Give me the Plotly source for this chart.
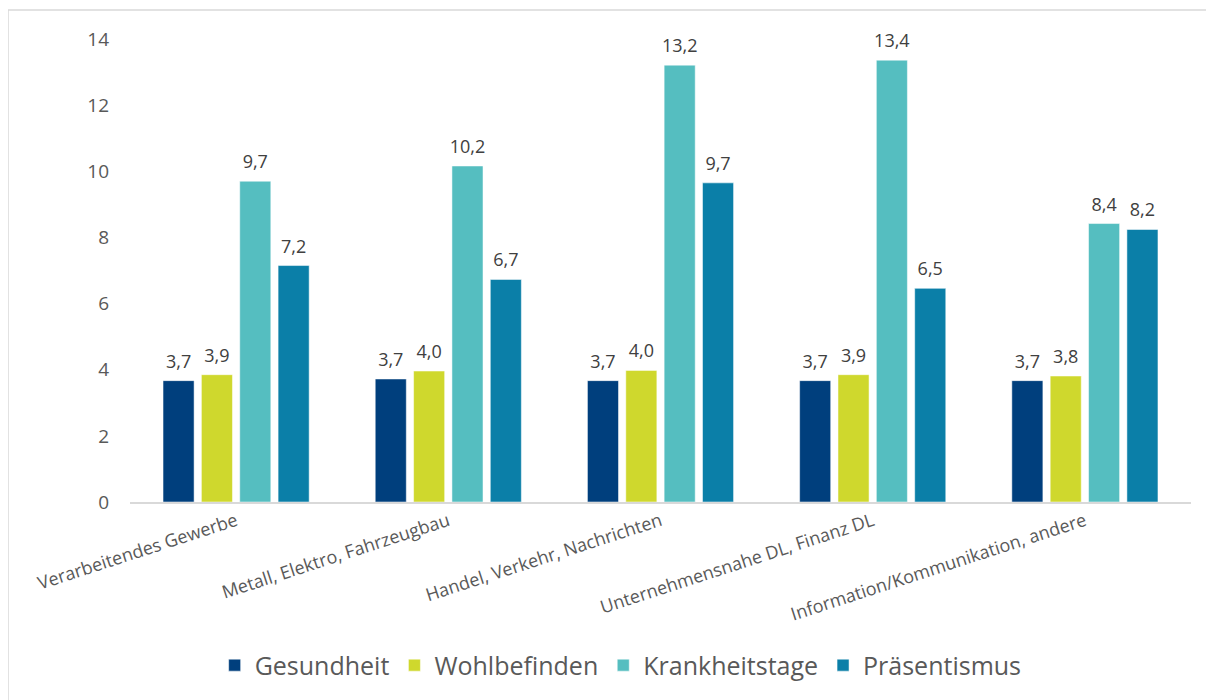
import plotly.graph_objects as go

categories = ["Verarbeitendes Gewerbe", "Metall, Elektro, Fahrzeugbau",
              "Handel, Verkehr, Nachrichten", "Unternehmensnahe DL, Finanz DL",
              "Information/Kommunikation, andere"]
gesundheit = [3.67, 3.72, 3.67, 3.67, 3.67]
wohlbefinden = [3.85, 3.96, 3.98, 3.85, 3.81]
krankheitstage = [9.7, 10.16, 13.21, 13.36, 8.42]
praesentismus = [7.15, 6.73, 9.65, 6.46, 8.24]

series = [
    ("Gesundheit", gesundheit, "#003f7d"),
    ("Wohlbefinden", wohlbefinden, "#cfd82d"),
    ("Krankheitstage", krankheitstage, "#55bec0"),
    ("Präsentismus", praesentismus, "#0b7fa8"),
]

FONT = "'Open Sans', 'Noto Sans', sans-serif"
fig = go.Figure()
for i, (name, vals, col) in enumerate(series):
    fig.add_trace(go.Bar(
        x=categories, y=vals, name=name, offsetgroup=str(i),
        marker=dict(color=col, line=dict(color="rgba(255,255,255,0.5)", width=1)),
    ))
for i, (name, vals, col) in enumerate(series):
    fig.add_trace(go.Scatter(
        x=categories, y=vals, mode="text+markers", offsetgroup=str(i),
        marker=dict(size=12, opacity=0),
        texttemplate="%{y:.1f}", textposition="top center",
        textfont=dict(size=18, color="#404040", family=FONT),
        showlegend=False, hoverinfo="skip", cliponaxis=False,
    ))

# page has an 8px body margin, so figure coords = screen coords - 8
W, H = 1206, 692
L, R, T, B = 122, 23, 31, 198
pw, ph = W - L - R, H - T - B

def px(x):
    return (x - L) / pw

def py(y):
    return (H - B - y) / ph

fig.update_layout(
    width=W, height=H,
    margin=dict(l=L, r=R, t=T, b=B, autoexpand=False),
    paper_bgcolor="white", plot_bgcolor="white",
    separators=",.",
    barmode="group", bargap=0.277, bargroupgap=0.19,
    scattermode="group", scattergap=0.277,
    font=dict(family=FONT, color="#595959"),
    showlegend=True,
    legend=dict(orientation="h", xref="container", yref="container",
                x=0.508, xanchor="center", y=0.05, yanchor="middle",
                font=dict(size=25, color="#595959", family=FONT),
                itemwidth=30, traceorder="normal"),
    xaxis=dict(showline=True, linecolor="#d9d9d9", linewidth=2,
               showgrid=False, ticks="", tickangle=-18, automargin=False,
               tickfont=dict(size=18, color="#595959", family=FONT)),
    yaxis=dict(range=[0, 14], dtick=2, showgrid=False, zeroline=False,
               showline=False, ticks="", ticklabelstandoff=20, automargin=False,
               tickfont=dict(size=19, color="#595959", family=FONT)),
    shapes=[dict(type="rect", xref="paper", yref="paper",
                 x0=px(0), x1=px(1204), y0=py(700), y1=py(2),
                 line=dict(color="#d9d9d9", width=1.5), layer="below")],
)

fig.write_html("out.html")
